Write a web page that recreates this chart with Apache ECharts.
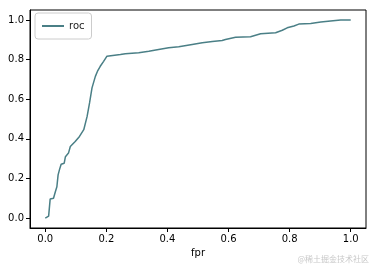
<!DOCTYPE html>
<html>
<head>
<meta charset="utf-8">
<script src="https://cdn.jsdelivr.net/npm/echarts@6/dist/echarts.min.js"></script>
<style>html,body{margin:0;padding:0;background:#fff;}#c{width:375px;height:266px;}</style>
</head>
<body>
<div id="c"></div>
<script>
var fpr = [0, 0.011, 0.016, 0.027, 0.033, 0.038, 0.042, 0.047, 0.052, 0.062, 0.066, 0.076, 0.082, 0.098, 0.112, 0.126,
  0.137, 0.145, 0.153, 0.164, 0.171, 0.18, 0.191, 0.202, 0.208, 0.246, 0.262,
  0.306, 0.339, 0.371, 0.404, 0.437, 0.443, 0.481, 0.514, 0.547, 0.579, 0.59, 0.623, 0.672,
  0.705, 0.754, 0.776, 0.792, 0.814, 0.83, 0.869, 0.902, 0.934, 0.967, 1.0];
var tpr = [0, 0.01, 0.096, 0.10, 0.133, 0.158, 0.218, 0.247, 0.272, 0.277, 0.31, 0.328, 0.361, 0.386, 0.412, 0.446,
  0.513, 0.581, 0.657, 0.715, 0.741, 0.766, 0.791, 0.817, 0.82, 0.825, 0.829,
  0.834, 0.842, 0.851, 0.859, 0.864, 0.872, 0.876, 0.885, 0.891, 0.896, 0.901, 0.913, 0.915,
  0.93, 0.935, 0.948, 0.96, 0.969, 0.979, 0.982, 0.989, 0.994, 0.999, 1.0];
var xTicks = [0, 0.2, 0.4, 0.6, 0.8, 1.0];
var yTicks = [0, 0.2, 0.4, 0.6, 0.8, 1.0];
var seriesName = 'roc';
var xName = 'fpr';

var pts = fpr.map(function (v, i) { return [v, tpr[i]]; });
var chart = echarts.init(document.getElementById('c'), null, {renderer: 'canvas'});
var font = 'DejaVu Sans';
chart.setOption({
  animation: false,
  textStyle: {fontFamily: font},
  grid: {left: 30, right: 9, top: 10, bottom: 38, show: true, borderColor: '#000', borderWidth: 1, backgroundColor: 'transparent'},
  legend: {
    left: 35, top: 13, data: [seriesName], icon: 'rect', itemWidth: 22, itemHeight: 2,
    borderColor: '#ccc', borderWidth: 1, borderRadius: 3, padding: [8, 7],
    textStyle: {fontFamily: font, fontSize: 10, color: '#222'}
  },
  xAxis: {
    type: 'value', min: -0.05, max: 1.05, name: xName, nameLocation: 'middle', nameGap: 20,
    nameTextStyle: {fontFamily: font, fontSize: 10, color: '#000'},
    splitLine: {show: false},
    axisLine: {show: true, onZero: false, lineStyle: {color: '#000', width: 1}},
    axisTick: {show: true, length: 4, lineStyle: {color: '#000'}, customValues: xTicks},
    axisLabel: {fontFamily: font, fontSize: 10, color: '#000', margin: 6, customValues: xTicks,
      formatter: function (v) { return v.toFixed(1); }}
  },
  yAxis: {
    type: 'value', min: -0.05, max: 1.05,
    splitLine: {show: false},
    axisLine: {show: true, onZero: false, lineStyle: {color: '#000', width: 1}},
    axisTick: {show: true, length: 4, lineStyle: {color: '#000'}, customValues: yTicks},
    axisLabel: {fontFamily: font, fontSize: 10, color: '#000', margin: 6, customValues: yTicks,
      formatter: function (v) { return v.toFixed(1); }}
  },
  series: [{
    name: seriesName, type: 'line', data: pts, showSymbol: false, symbol: 'none',
    lineStyle: {color: '#4a7f86', width: 1.5}, itemStyle: {color: '#4a7f86'}
  }],
  graphic: [{
    type: 'text', right: 6, bottom: 3,
    style: {text: '@稀土掘金技术社区', font: '8px "Noto Sans CJK SC"', fill: '#c8c8c8'}
  }]
});
</script>
</body>
</html>
